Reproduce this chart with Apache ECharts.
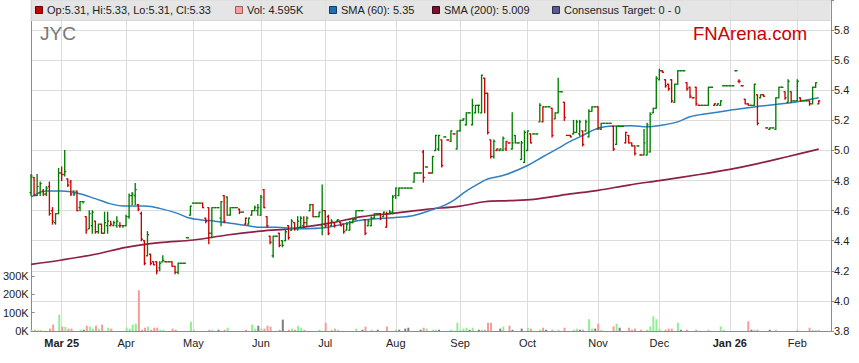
<!DOCTYPE html>
<html><head><meta charset="utf-8">
<script src="https://cdn.jsdelivr.net/npm/echarts@6/dist/echarts.min.js"></script>
<style>html,body{margin:0;padding:0;background:#fff}#c{width:859px;height:363px}</style>
</head><body><div id="c"></div>
<script>
// ---- data ----
const firstDay = '2025-02-17';
const lastDay = '2026-02-17';
const monthNames = ['Jan','Feb','Mar','Apr','May','Jun','Jul','Aug','Sep','Oct','Nov','Dec'];
// [open, high, low, close] per trading day from firstDay
const ohlc = [
[4.72,4.84,4.70,4.83],[4.82,4.82,4.70,4.70],[4.70,4.84,4.70,4.76],[4.72,4.79,4.70,4.78],[4.73,4.74,4.70,4.71],[4.71,4.76,4.70,4.75],[4.76,4.79,4.57,4.58],[4.60,4.62,4.51,4.53],[4.52,4.58,4.51,4.58],[4.58,4.88,4.58,4.85],
[4.85,4.89,4.80,4.84],[4.84,5.00,4.83,4.86],[4.81,4.81,4.76,4.77],[4.79,4.80,4.70,4.71],[4.73,4.73,4.70,4.71],[4.73,4.73,4.60,4.60],[4.62,4.66,4.60,4.66],[4.66,4.66,4.65,4.66],[4.56,4.56,4.45,4.47],[4.48,4.60,4.48,4.58],
[4.50,4.60,4.45,4.59],[4.53,4.53,4.45,4.46],[4.46,4.51,4.45,4.51],[4.51,4.51,4.45,4.45],[4.45,4.59,4.45,4.52],[4.50,4.59,4.45,4.53],[4.50,4.53,4.50,4.51],[4.50,4.53,4.50,4.52],[4.50,4.56,4.49,4.53],[4.50,4.52,4.49,4.50],
[4.50,4.50,4.49,4.50],[4.50,4.57,4.50,4.56],[4.56,4.71,4.55,4.70],[4.70,4.72,4.64,4.71],[4.70,4.78,4.64,4.74],[4.64,4.64,4.60,4.61],[4.58,4.59,4.40,4.41],[4.40,4.40,4.24,4.25],[4.30,4.46,4.30,4.44],[4.31,4.31,4.24,4.25],
[4.26,4.26,4.24,4.24],[4.26,4.26,4.18,4.20],[4.22,4.26,4.20,4.25],[4.26,4.30,4.26,4.27],[4.26,4.26,4.26,4.26],[4.26,4.26,4.26,4.26],[4.26,4.26,4.23,4.23],[4.23,4.23,4.18,4.19],[4.19,4.25,4.18,4.25],[4.25,4.25,4.25,4.25],
[4.25,4.25,4.25,4.25],[4.42,4.42,4.42,4.42],[4.57,4.63,4.57,4.63],[4.65,4.65,4.65,4.65],[4.65,4.65,4.65,4.65],[4.65,4.65,4.65,4.65],[4.65,4.65,4.62,4.62],[4.55,4.55,4.52,4.53],[4.62,4.62,4.38,4.45],[4.45,4.62,4.42,4.62],
[4.62,4.62,4.62,4.62],[4.62,4.62,4.62,4.62],[4.55,4.66,4.50,4.66],[4.70,4.70,4.52,4.53],[4.69,4.69,4.57,4.57],[4.57,4.62,4.57,4.62],[4.62,4.62,4.62,4.62],[4.62,4.62,4.62,4.62],[4.61,4.61,4.58,4.59],[4.59,4.59,4.59,4.59],
[4.51,4.55,4.51,4.55],[4.51,4.55,4.51,4.55],[4.57,4.60,4.57,4.60],[4.60,4.63,4.60,4.62],[4.60,4.64,4.57,4.62],[4.57,4.70,4.57,4.69],[4.74,4.74,4.62,4.62],[4.56,4.56,4.49,4.50],[4.43,4.43,4.38,4.39],[4.30,4.43,4.29,4.43],
[4.43,4.43,4.43,4.43],[4.45,4.45,4.36,4.37],[4.40,4.40,4.36,4.37],[4.40,4.47,4.40,4.46],[4.50,4.50,4.41,4.42],[4.47,4.54,4.47,4.53],[4.52,4.52,4.47,4.48],[4.48,4.56,4.47,4.53],[4.49,4.56,4.49,4.55],[4.50,4.56,4.49,4.52],
[4.52,4.56,4.50,4.55],[4.60,4.64,4.60,4.64],[4.64,4.64,4.56,4.56],[4.56,4.56,4.56,4.56],[4.56,4.59,4.56,4.59],[4.50,4.77,4.44,4.60],[4.60,4.60,4.49,4.50],[4.56,4.57,4.44,4.45],[4.50,4.54,4.50,4.53],[4.52,4.52,4.49,4.50],
[4.53,4.54,4.53,4.54],[4.52,4.52,4.50,4.50],[4.51,4.51,4.45,4.46],[4.47,4.52,4.47,4.51],[4.47,4.53,4.47,4.52],[4.52,4.55,4.52,4.54],[4.54,4.60,4.54,4.60],[4.60,4.60,4.60,4.60],[4.60,4.60,4.60,4.60],[4.54,4.54,4.44,4.45],
[4.50,4.54,4.50,4.53],[4.50,4.56,4.50,4.55],[4.55,4.58,4.55,4.58],[4.58,4.58,4.58,4.58],[4.58,4.58,4.54,4.55],[4.56,4.59,4.56,4.59],[4.49,4.59,4.49,4.58],[4.58,4.60,4.58,4.59],[4.59,4.70,4.58,4.69],[4.70,4.75,4.68,4.75],
[4.70,4.75,4.70,4.75],[4.75,4.75,4.75,4.75],[4.75,4.75,4.75,4.75],[4.75,4.75,4.75,4.75],[4.75,4.75,4.75,4.75],[4.79,4.85,4.79,4.85],[4.85,4.85,4.85,4.85],[4.85,4.85,4.85,4.85],[4.99,5.00,4.79,4.82],[4.89,4.89,4.89,4.89],
[4.85,4.85,4.85,4.85],[4.85,4.96,4.85,4.96],[5.00,5.10,5.00,5.10],[5.01,5.10,5.00,5.10],[5.07,5.07,4.89,4.90],[5.09,5.09,5.09,5.09],[5.07,5.07,5.07,5.07],[5.06,5.13,5.06,5.13],[5.11,5.11,5.11,5.11],[5.01,5.13,5.01,5.13],
[5.13,5.20,5.13,5.20],[5.20,5.21,5.20,5.21],[5.17,5.25,5.17,5.25],[5.25,5.25,5.25,5.25],[5.17,5.34,5.17,5.30],[5.25,5.30,5.25,5.30],[5.30,5.30,5.25,5.30],[5.25,5.50,5.25,5.50],[5.48,5.48,5.25,5.38],[5.38,5.38,5.11,5.12],
[5.07,5.07,4.95,4.96],[4.96,5.07,4.95,5.06],[5.00,5.01,5.00,5.01],[5.00,5.01,5.00,5.01],[5.00,5.09,5.00,5.08],[5.01,5.06,5.00,5.06],[5.05,5.05,5.05,5.05],[5.01,5.25,5.01,5.05],[5.10,5.10,5.05,5.05],[5.05,5.05,5.05,5.05],
[4.94,5.06,4.94,5.05],[4.92,5.13,4.92,5.12],[5.00,5.13,5.00,5.13],[5.11,5.11,5.05,5.05],[5.11,5.11,5.11,5.11],[5.11,5.11,5.11,5.11],[5.19,5.31,5.19,5.30],[5.19,5.29,5.19,5.29],[5.29,5.29,5.29,5.29],[5.29,5.29,5.29,5.29],
[5.28,5.28,5.09,5.10],[5.21,5.25,5.21,5.25],[5.25,5.48,5.25,5.39],[5.39,5.39,5.39,5.39],[5.32,5.32,5.20,5.22],[5.10,5.10,5.10,5.10],[5.10,5.10,5.09,5.09],[5.11,5.20,5.11,5.12],[5.12,5.20,5.12,5.19],[5.11,5.20,5.10,5.19],
[5.13,5.13,5.03,5.04],[5.13,5.20,5.13,5.19],[5.09,5.27,5.09,5.26],[5.26,5.29,5.26,5.29],[5.29,5.29,5.29,5.29],[5.29,5.29,5.14,5.15],[5.14,5.18,5.14,5.18],[5.18,5.18,5.18,5.18],[5.18,5.18,5.18,5.18],[5.18,5.18,5.18,5.18],
[5.16,5.16,5.00,5.01],[5.04,5.16,5.04,5.16],[5.16,5.16,5.16,5.16],[5.16,5.16,5.16,5.16],[5.05,5.12,5.05,5.12],[5.10,5.10,5.05,5.05],[5.05,5.05,5.03,5.03],[5.03,5.03,4.97,4.98],[5.03,5.03,5.03,5.03],[4.97,4.97,4.97,4.97],
[4.97,5.14,4.97,5.05],[4.97,5.18,4.97,5.17],[4.99,5.25,4.99,5.24],[5.25,5.28,5.25,5.28],[5.28,5.49,5.28,5.48],[5.47,5.54,5.47,5.53],[5.53,5.53,5.52,5.52],[5.47,5.47,5.42,5.43],[5.44,5.44,5.40,5.41],[5.47,5.47,5.32,5.33],
[5.32,5.44,5.32,5.44],[5.44,5.53,5.44,5.53],[5.53,5.53,5.53,5.53],[5.53,5.53,5.53,5.53],[5.45,5.45,5.40,5.41],[5.42,5.42,5.35,5.36],[5.35,5.35,5.35,5.35],[5.42,5.42,5.30,5.31],[5.30,5.30,5.30,5.30],[5.30,5.30,5.30,5.30],
[5.30,5.30,5.30,5.30],[5.30,5.42,5.30,5.42],[5.42,5.42,5.42,5.42],[5.30,5.31,5.30,5.31],[5.30,5.31,5.30,5.31],[5.30,5.33,5.30,5.33],[5.43,5.43,5.43,5.43],[5.43,5.43,5.43,5.43],[5.43,5.43,5.43,5.43],[5.43,5.43,5.43,5.43],
[5.53,5.53,5.53,5.53],[5.46,5.47,5.45,5.46],[5.43,5.43,5.43,5.43],[5.34,5.34,5.31,5.31],[5.31,5.31,5.30,5.30],[5.30,5.30,5.30,5.30],[5.30,5.44,5.30,5.44],[5.37,5.37,5.17,5.18],[5.35,5.37,5.35,5.37],[5.37,5.37,5.36,5.36],
[5.15,5.15,5.15,5.15],[5.14,5.15,5.14,5.15],[5.15,5.15,5.15,5.15],[5.14,5.35,5.14,5.35],[5.35,5.42,5.35,5.42],[5.42,5.42,5.42,5.42],[5.39,5.39,5.34,5.35],[5.32,5.47,5.32,5.46],[5.39,5.39,5.32,5.33],[5.33,5.33,5.33,5.33],
[5.33,5.47,5.33,5.46],[5.35,5.35,5.33,5.33],[5.33,5.33,5.33,5.33],[5.33,5.33,5.33,5.33],[5.33,5.33,5.30,5.31],[5.31,5.42,5.31,5.42],[5.42,5.45,5.42,5.45],[5.31,5.33,5.31,5.33]
];
// volume in thousands per trading day
const volumeK = [
5,7,5,5,0,0,13,35,0,89,
24,22,13,13,0,0,7,7,29,24,
13,29,13,35,0,18,13,0,0,0,
0,18,13,35,40,222,7,18,24,7,
18,18,7,7,0,0,13,7,0,0,
0,0,51,7,0,0,0,0,7,7,
0,7,0,7,18,0,0,0,0,0,
7,0,35,13,29,13,13,29,24,0,
0,7,62,0,7,13,7,27,18,7,
0,0,0,0,7,0,45,0,7,13,
7,0,0,0,0,0,13,0,7,24,
0,7,0,7,0,0,24,0,0,7,
7,0,13,18,0,0,0,7,18,13,
0,7,7,7,0,0,0,7,0,45,
7,13,18,7,18,0,7,7,7,45,
45,0,0,13,24,0,29,7,0,0,
13,0,18,13,0,0,7,18,7,0,
7,0,7,0,18,0,0,7,13,7,
7,0,64,13,13,40,7,0,0,0,
25,40,18,0,0,18,7,13,0,7,
0,7,25,80,64,13,0,7,13,13,
0,45,7,0,7,0,0,7,0,0,
0,7,0,0,0,25,7,0,0,0,
0,0,0,0,53,7,7,7,0,0,
0,7,0,7,0,0,0,0,0,0,
7,0,0,0,18,7,5,4.595
];
// moving averages read at [trading-day index, value]
const sma60 = [[0,4.69],[5,4.73],[10,4.73],[15,4.717],[21,4.68],[26,4.645],[31,4.63],[37,4.63],[42,4.615],[48,4.58],[51,4.555],[55,4.54],[60,4.53],[64,4.52],[69,4.505],[75,4.49],[80,4.49],[87,4.48],[97,4.49],[108,4.537],[118,4.553],[124,4.564],[129,4.593],[135,4.637],[138,4.67],[142,4.73],[147,4.79],[149,4.81],[155,4.84],[162,4.90],[167,4.958],[173,5.025],[175,5.05],[179,5.09],[185,5.147],[190,5.162],[196,5.164],[201,5.157],[206,5.169],[211,5.19],[215,5.224],[221,5.246],[228,5.268],[234,5.284],[239,5.297],[244,5.308],[250,5.324],[257,5.35]];
const sma200 = [[0,4.243],[10,4.272],[21,4.31],[31,4.356],[42,4.387],[53,4.405],[64,4.438],[75,4.464],[86,4.482],[97,4.515],[108,4.56],[118,4.582],[129,4.609],[140,4.63],[148,4.659],[156,4.666],[164,4.675],[175,4.708],[185,4.735],[195,4.77],[205,4.80],[218,4.84],[228,4.874],[236,4.907],[247,4.96],[257,5.009]];
const priceAxis = {min: 3.8, max: 6.0, step: 0.2};
const volAxis = {min: 0, max: 300, step: 100};
const legendTexts = ['Op:5.31, Hi:5.33, Lo:5.31, Cl:5.33','Vol: 4.595K','SMA (60): 5.35','SMA (200): 5.009','Consensus Target: 0 - 0'];

// ---- build ----
const dates = [];
for (let d = new Date(firstDay + 'T00:00:00Z'); d <= new Date(lastDay + 'T00:00:00Z'); d.setUTCDate(d.getUTCDate() + 1)) {
  const wd = d.getUTCDay();
  if (wd === 0 || wd === 6) continue;
  dates.push(d.toISOString().slice(0, 10));
}
const isMonthStart = (i) => i > 0 && dates[i].slice(5, 7) !== dates[i - 1].slice(5, 7);
let firstMonthIdx = -1;
for (let i = 0; i < dates.length; i++) if (isMonthStart(i)) { firstMonthIdx = i; break; }

const up = ohlc.map((b, i) => i === 0 ? 1 : (b[3] >= ohlc[i - 1][3] ? 1 : 0));
const flat = ohlc.map((b, i) => i > 0 && b[3] === ohlc[i - 1][3]);
const ohlcData = ohlc.map((b, i) => [i, b[0], b[1], b[2], b[3], up[i]]);
const volData = volumeK.map((v, i) => ({
  value: v,
  itemStyle: {color: flat[i] ? '#7f7f7f' : (up[i] ? '#90ee90' : '#f79a9a')}
}));

const FONT = "'Liberation Sans', Arial, sans-serif";
const GREEN = '#007d00', RED = '#cc0000';
const left = 31, right = 28;

const chart = echarts.init(document.getElementById('c'), null, {renderer: 'svg'});

const legendX = [35, 235, 329, 432, 552];
const legendFill = ['#cc0000', '#f4a0a0', '#1f6fb5', '#7a1033', '#5a5a8c'];
const legendStroke = ['#600000', '#a05a5a', '#0e3d6a', '#3a0818', '#2c2c50'];
const graphics = [
  {type: 'rect', z: 100, shape: {x: 30.5, y: 0, width: 800, height: 20}, style: {fill: 'rgba(225,225,225,0.85)'}},
  {type: 'line', z: 100, shape: {x1: 30.5, y1: 20.5, x2: 830.5, y2: 20.5}, style: {stroke: '#d6d6d6', lineWidth: 1}},
  {type: 'text', z: 101, x: 40, y: 33, style: {text: 'JYC', fill: '#777', font: '19px ' + FONT, textVerticalAlign: 'middle'}},
  {type: 'text', z: 101, x: 693, y: 33, style: {text: 'FNArena.com', fill: '#cc0000', font: '18.5px ' + FONT, textVerticalAlign: 'middle'}}
];
legendTexts.forEach((t, i) => {
  graphics.push({type: 'rect', z: 101, shape: {x: legendX[i] + 0.5, y: 6.5, width: 7, height: 7}, style: {fill: legendFill[i], stroke: legendStroke[i], lineWidth: 1}});
  graphics.push({type: 'text', z: 101, x: legendX[i] + 12, y: 10, style: {text: t, fill: '#222', font: '11px ' + FONT, textVerticalAlign: 'middle'}});
});

const option = {
  animation: false,
  backgroundColor: '#fff',
  grid: [
    {left: left, right: right, top: 0, bottom: 32, containLabel: false},
    {left: left, right: right, top: 276, height: 55, containLabel: false}
  ],
  xAxis: [
    {
      type: 'category', gridIndex: 0, data: dates, boundaryGap: false,
      axisLine: {show: true, lineStyle: {color: '#8c8c8c', width: 1}},
      axisTick: {show: false},
      axisLabel: {
        interval: (i) => isMonthStart(i), color: '#222', fontSize: 11, fontFamily: FONT, margin: 6,
        formatter: (v, i) => {
          const m = +v.slice(5, 7) - 1;
          if (m === 0 || i === firstMonthIdx) return '{b|' + monthNames[m] + ' ' + v.slice(2, 4) + '}';
          return monthNames[m];
        },
        rich: {b: {fontWeight: 'bold', fontSize: 11, fontFamily: FONT, color: '#222'}}
      },
      splitLine: {show: true, interval: (i) => isMonthStart(i), lineStyle: {color: '#dcdcdc', width: 1}}
    },
    {
      type: 'category', gridIndex: 1, data: dates, boundaryGap: false,
      axisLine: {show: false}, axisTick: {show: false}, axisLabel: {show: false}, splitLine: {show: false}
    }
  ],
  yAxis: [
    {
      type: 'value', gridIndex: 0, position: 'right', min: priceAxis.min, max: priceAxis.max, interval: priceAxis.step,
      axisLine: {show: true, lineStyle: {color: '#8c8c8c'}},
      axisTick: {show: true, length: 3, lineStyle: {color: '#8c8c8c'}},
      axisLabel: {color: '#222', fontSize: 11, fontFamily: FONT, margin: 3,
        formatter: (v) => v > priceAxis.max - 0.01 ? '' : v.toFixed(1)},
      splitLine: {show: true, lineStyle: {color: '#dcdcdc', width: 1}}
    },
    {
      type: 'value', gridIndex: 0, position: 'left', min: priceAxis.min, max: priceAxis.max,
      axisLine: {show: true, lineStyle: {color: '#8c8c8c'}},
      axisTick: {show: false}, axisLabel: {show: false}, splitLine: {show: false}
    },
    {
      type: 'value', gridIndex: 1, position: 'left', min: volAxis.min, max: volAxis.max, interval: volAxis.step,
      axisLine: {show: false},
      axisTick: {show: true, inside: true, length: 3, lineStyle: {color: '#8c8c8c'}},
      axisLabel: {color: '#222', fontSize: 11, fontFamily: FONT, margin: 3, formatter: (v) => v + 'K'},
      splitLine: {show: false}
    }
  ],
  series: [
    {
      type: 'bar', xAxisIndex: 1, yAxisIndex: 2, data: volData, barWidth: 2, silent: true
    },
    {
      type: 'line', xAxisIndex: 0, yAxisIndex: 0, data: sma200, symbol: 'none', smooth: 0.35, silent: true,
      lineStyle: {color: '#8e1f45', width: 1.7}
    },
    {
      type: 'line', xAxisIndex: 0, yAxisIndex: 0, data: sma60, symbol: 'none', smooth: 0.35, silent: true,
      lineStyle: {color: '#2f7fc1', width: 1.5}
    },
    {
      type: 'custom', xAxisIndex: 0, yAxisIndex: 0, data: ohlcData, silent: true, z: 5,
      encode: {x: 0, y: [1, 2, 3, 4]},
      renderItem: (params, api) => {
        const i = api.value(0);
        const pO = api.coord([i, api.value(1)]);
        const yH = api.coord([i, api.value(2)])[1];
        const yL = api.coord([i, api.value(3)])[1];
        const yC = api.coord([i, api.value(4)])[1];
        const x = pO[0];
        const w = api.size([1, 0])[0] * 0.5;
        const col = api.value(5) ? GREEN : RED;
        const st = {stroke: col, lineWidth: 1.35};
        return {type: 'group', children: [
          {type: 'line', shape: {x1: x, y1: yH - 0.5, x2: x, y2: yL + 0.5}, style: st},
          {type: 'line', shape: {x1: x - w, y1: pO[1], x2: x, y2: pO[1]}, style: st},
          {type: 'line', shape: {x1: x, y1: yC, x2: x + w, y2: yC}, style: st}
        ]};
      }
    }
  ],
  graphic: graphics
};
chart.setOption(option);
</script>
</body></html>
